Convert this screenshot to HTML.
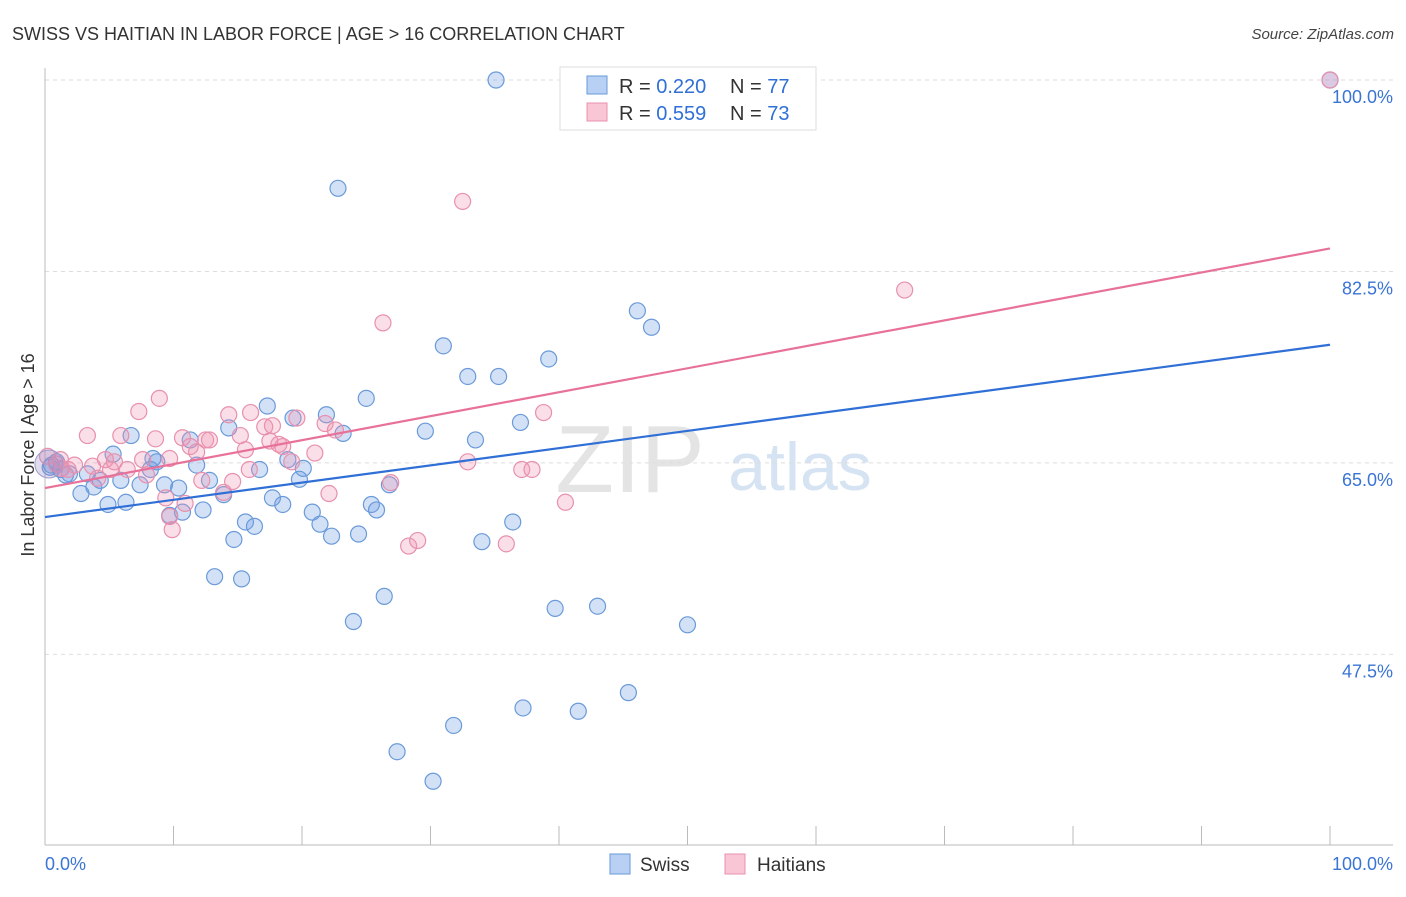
<!DOCTYPE html>
<html><head><meta charset="utf-8"><style>
body{margin:0;background:#fff;font-family:"Liberation Sans",sans-serif;}
svg text{font-family:"Liberation Sans",sans-serif;}
</style></head><body>
<svg id="chart" width="1406" height="892" viewBox="0 0 1406 892">
<text x="12" y="40" font-size="18" fill="#333">SWISS VS HAITIAN IN LABOR FORCE | AGE &gt; 16 CORRELATION CHART</text>
<text x="1394" y="39" font-size="15" fill="#444" font-style="italic" text-anchor="end">Source: ZipAtlas.com</text>
<g>
<text x="630" y="492" font-size="96" fill="#e4e4e4" font-family="Liberation Serif" text-anchor="middle">ZIP</text>
<text x="800" y="490" font-size="68" fill="#d6e3f3" text-anchor="middle">atlas</text>
</g>
<g id="grid"></g>
<g id="axes"></g>
<g id="marks"></g>
<g>
<rect x="560" y="67" width="256" height="63" fill="#fff" stroke="#ddd"/>
<rect x="587" y="76" width="20" height="18" fill="#b8d0f3" stroke="#6a9ad9"/>
<rect x="587" y="103" width="20" height="18" fill="#f9c6d6" stroke="#e890ad"/>
<text x="619" y="93" font-size="20" fill="#333">R = <tspan fill="#2f6fd6">0.220</tspan></text>
<text x="730" y="93" font-size="20" fill="#333">N = <tspan fill="#2f6fd6">77</tspan></text>
<text x="619" y="120" font-size="20" fill="#333">R = <tspan fill="#2f6fd6">0.559</tspan></text>
<text x="730" y="120" font-size="20" fill="#333">N = <tspan fill="#2f6fd6">73</tspan></text>
</g>
<g>
<rect x="610" y="854" width="20" height="20" fill="#b8d0f3" stroke="#6a9ad9"/>
<text x="640" y="871" font-size="19" fill="#333">Swiss</text>
<rect x="725" y="854" width="20" height="20" fill="#f9c6d6" stroke="#e890ad"/>
<text x="757" y="871" font-size="19" fill="#333">Haitians</text>
</g>
<text transform="translate(34,455) rotate(-90)" font-size="18" fill="#333" text-anchor="middle">In Labor Force | Age &gt; 16</text>
</svg>
<script>
const yTicks=[100,82.5,65,47.5];
const yTickLabels=["100.0%","82.5%","65.0%","47.5%"];
const xEndLabels=["0.0%","100.0%"];
const swissX=[35.1,100,22.8,46.1,47.2,31.0,39.2,32.9,35.3,25.0,17.3,19.3,21.9,37.0,23.2,29.6,33.5,14.3,6.7,5.3,8.4,8.7,11.8,0.9,0.4,1.2,1.9,3.3,4.3,3.8,2.8,5.9,7.4,9.3,10.4,12.8,16.7,18.9,20.1,19.8,13.9,17.7,18.5,4.9,6.3,9.7,10.7,12.3,20.8,25.4,25.8,15.6,16.3,21.4,36.4,26.8,14.7,22.3,24.4,34.0,13.2,15.3,26.4,24.0,39.7,43.0,50.0,45.4,37.2,41.5,31.8,27.4,30.2,1.6,0.5,8.2,11.3];
const swissY=[100,100,90.1,78.9,77.4,75.7,74.5,72.9,72.9,70.9,70.2,69.1,69.4,68.7,67.7,67.9,67.1,68.2,67.5,65.8,65.4,65.1,64.8,65.1,64.6,64.4,64.0,64.0,63.4,62.8,62.2,63.4,63.0,63.0,62.7,63.4,64.4,65.3,64.5,63.5,62.1,61.8,61.2,61.2,61.4,60.2,60.5,60.7,60.5,61.2,60.7,59.6,59.2,59.4,59.6,63.0,58.0,58.3,58.5,57.8,54.6,54.4,52.8,50.5,51.7,51.9,50.2,44.0,42.6,42.3,41.0,38.6,35.9,63.9,64.8,64.4,67.1];
const haitiX=[100,32.5,66.9,26.3,8.9,7.3,14.3,16.0,19.6,21.8,38.8,3.3,5.9,8.6,10.7,12.5,15.2,17.1,17.7,17.5,18.5,12.8,11.3,15.6,21.0,22.6,19.2,0.2,1.2,2.3,4.7,5.4,7.6,9.7,11.8,32.9,37.1,37.9,15.9,6.4,5.1,4.1,1.8,0.9,14.6,12.2,7.9,13.9,22.1,26.9,9.4,10.9,40.5,9.7,9.9,28.3,29.0,35.9,18.2,1.3,3.7];
const haitiY=[100,88.9,80.8,77.8,70.9,69.7,69.4,69.6,69.1,68.6,69.6,67.5,67.5,67.2,67.3,67.1,67.5,68.3,68.4,67.0,66.5,67.1,66.5,66.2,65.9,68.0,65.1,65.6,65.3,64.8,65.3,65.1,65.3,65.4,66.0,65.1,64.4,64.4,64.4,64.4,64.4,63.6,64.4,64.9,63.3,63.4,63.9,62.3,62.2,63.2,61.8,61.3,61.4,60.1,58.9,57.4,57.9,57.6,66.7,64.5,64.7];
const swissTrend=[60.05,75.8];
const haitiTrend=[62.7,84.6];
const NS="http://www.w3.org/2000/svg";
const X=v=>45+v*12.85, Y=v=>80+(100-v)*10.94;
function mk(t,a,p){const e=document.createElementNS(NS,t);for(const k in a)e.setAttribute(k,a[k]);p.appendChild(e);return e;}
const grid=document.getElementById('grid'),axes=document.getElementById('axes'),marks=document.getElementById('marks');
yTicks.forEach((t,i)=>{
 const l=mk('line',{x1:45,x2:1393,y1:Y(t),y2:Y(t),stroke:'#ddd','stroke-dasharray':'4 4'},grid);
 
 
 const tx=mk('text',{x:1393,y:Y(t)+23,'font-size':18,fill:'#3a74d4','text-anchor':'end'},axes);
 tx.textContent=yTickLabels[i];
 
 
});
mk('line',{x1:45,x2:45,y1:68,y2:845,stroke:'#bbb'},axes);
mk('line',{x1:45,x2:1393,y1:845,y2:845,stroke:'#bbb'},axes);
for(let i=0;i<=10;i++){const t=mk('line',{x1:X(i*10),x2:X(i*10),y1:826,y2:845,stroke:'#bbb'},axes);}
const xl0=mk('text',{x:45,y:870,'font-size':18,fill:'#3a74d4'},axes);xl0.textContent=xEndLabels[0];


const xl1=mk('text',{x:1393,y:870,'font-size':18,fill:'#3a74d4','text-anchor':'end'},axes);xl1.textContent=xEndLabels[1];


function pts(xs,ys,fill,stroke,name){xs.forEach((x,i)=>{const c=mk('circle',{cx:X(x),cy:Y(ys[i]),r:8,fill:fill,stroke:stroke,'stroke-width':1.2},marks);
 
 });}
pts(swissX,swissY,'rgba(110,155,230,0.3)','#6a9ad9','swiss-point');
pts(haitiX,haitiY,'rgba(240,150,180,0.3)','#e890ad','haitian-point');
const big=mk('circle',{cx:X(0.3),cy:Y(64.9),r:14,fill:'rgba(150,140,200,0.3)',stroke:'#a09ad0'},marks);


const bl=mk('line',{x1:X(0),y1:Y(swissTrend[0]),x2:X(100),y2:Y(swissTrend[1]),stroke:'#2f6fd6','stroke-width':2.2},marks);


const pl=mk('line',{x1:X(0),y1:Y(haitiTrend[0]),x2:X(100),y2:Y(haitiTrend[1]),stroke:'#e8719a','stroke-width':2.2},marks);


</script>
</body></html>
